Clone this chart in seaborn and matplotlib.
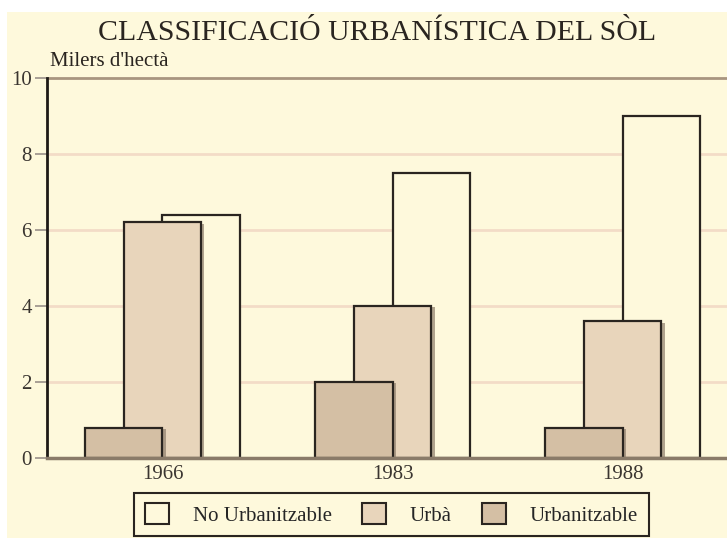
import matplotlib
matplotlib.use("Agg")
import matplotlib.pyplot as plt
import matplotlib.patheffects as pe
from matplotlib.patches import Patch, Rectangle
import seaborn as sns
import pandas as pd

# dades (milers d'hectàrees)
anys = ["1966", "1983", "1988"]
no_urbanitzable = [6.4, 7.5, 9.0]
urba = [6.2, 4.0, 3.6]
urbanitzable = [0.8, 2.0, 0.8]

series_noms = ["No Urbanitzable", "Urbà", "Urbanitzable"]

crema = "#FEF9DC"
col_no_urb = "#FEF9DC"
col_urba = "#E8D5BB"
col_urbanitzable = "#D4BFA4"

sns.set_theme(style="white")
plt.rcParams["font.family"] = ["Liberation Serif", "DejaVu Serif"]

fig = plt.figure(figsize=(7.27, 5.38), dpi=100)
fig.patch.set_facecolor("white")
# fons crema
fig.patches.append(Rectangle((7 / 727, 0), 1, 1 - 12 / 538, transform=fig.transFigure,
                             facecolor=crema, edgecolor="none", zorder=-10))

ax = fig.add_axes([47 / 727, 80 / 538, 680 / 727, 380 / 538])
ax.set_facecolor(crema)

amplada = 0.335
desplac = amplada / 2

df = pd.DataFrame({"any": anys, "no_urb": no_urbanitzable, "urba": urba, "urbanitzable": urbanitzable})

capes = [
    ("no_urb", col_no_urb, desplac, 2, False),
    ("urba", col_urba, 0.0, 3, True),
    ("urbanitzable", col_urbanitzable, -desplac, 4, True),
]
for col, color, off, z, ombra in capes:
    n_abans = len(ax.patches)
    sns.barplot(data=df, x="any", y=col, color=color, width=amplada, saturation=1,
                edgecolor="#2a2520", linewidth=1.6, ax=ax, zorder=z)
    for p in ax.patches[n_abans:]:
        p.set_x(p.get_x() + off)
        p.set_facecolor(color)
        p.set_zorder(z)
        if ombra:
            p.set_path_effects([pe.withSimplePatchShadow(offset=(2.5, -1), shadow_rgbFace="#8f7f6c", alpha=0.7)])

ax.set_xlim(-0.502, 2.454)
ax.set_ylim(0, 10)
ax.set_yticks([0, 2, 4, 6, 8, 10])
ax.set_xlabel("")
ax.set_ylabel("")

# línies de referència
for v in [2, 4, 6, 8]:
    ax.axhline(v, color="#F3DCC7", lw=2, zorder=0)
ax.axhline(10, color="#A8957F", lw=2, zorder=1, clip_on=False)

for s in ["top", "right"]:
    ax.spines[s].set_visible(False)
ax.spines["left"].set_color("#1e1a16")
ax.spines["left"].set_linewidth(2)
ax.spines["bottom"].set_color("#8a7b69")
ax.spines["bottom"].set_linewidth(2.5)
ax.spines["bottom"].set_zorder(6)

ax.tick_params(axis="y", left=True, length=9, width=1.2, color="#9a9088", pad=2,
               labelsize=15, labelcolor="#3a3530")
ax.tick_params(axis="x", bottom=False, length=0, pad=5, labelsize=15, labelcolor="#3a3530")

fig.text(377 / 727, 1 - 33 / 538, "CLASSIFICACIÓ URBANÍSTICA DEL SÒL", ha="center", va="center",
         fontsize=21.5, color="#2a2520")
fig.text(50 / 727, 1 - 62 / 538, "Milers d'hectà", ha="left", va="center",
         fontsize=15, color="#2a2520")

handles = [Patch(facecolor=c, edgecolor="#2a2520", linewidth=1.5)
           for c in [col_no_urb, col_urba, col_urbanitzable]]
leg = fig.legend(handles, series_noms, loc="upper center", ncol=3,
                 bbox_to_anchor=(391.5 / 727, 1 - 493 / 538), frameon=True, fancybox=False,
                 fontsize=15, handlelength=1.15, handleheight=1.15, handletextpad=1.15,
                 columnspacing=1.45, borderpad=0.5, borderaxespad=0)
leg.get_frame().set_facecolor(crema)
leg.get_frame().set_edgecolor("#2a2520")
leg.get_frame().set_linewidth(1.5)
leg.get_frame().set_alpha(1)

fig.savefig("out.png", dpi=100)
